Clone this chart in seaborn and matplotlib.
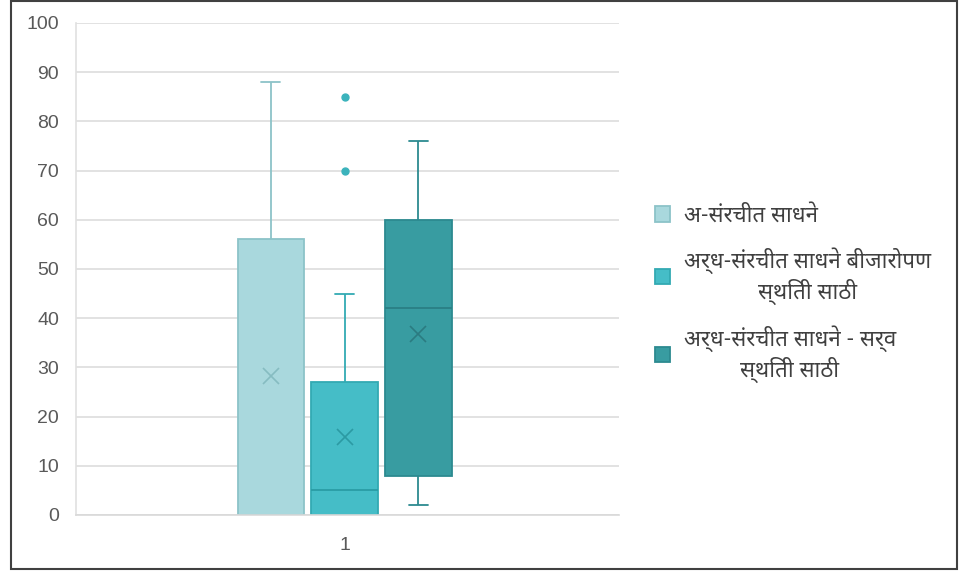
import matplotlib
matplotlib.use("Agg")
import matplotlib.pyplot as plt
import seaborn as sns
import pandas as pd
from matplotlib.patches import Rectangle

# data (raw samples read so that quartiles / whiskers / means match the picture)
labels = ['अ-संरचीत साधने',
          'अर्ध-संरचीत साधने बीजारोपण\nस्थिती साठी',
          'अर्ध-संरचीत साधने - सर्व\nस्थिती साठी']
vals1 = [0, 0, 0, 0, 0, 52, 56, 58.7, 88]
vals2 = [0, 0, 0, 0, 0, 0, 0, 1, 2, 3, 5, 5, 6, 8, 10, 27, 30, 37, 45, 70, 85]
vals3 = [2, 5, 8, 22, 42, 50, 60, 66, 76]
category = '1'
yticks = [0, 10, 20, 30, 40, 50, 60, 70, 80, 90, 100]

fills = ['#A9D8DD', '#45BDC7', '#389CA1']
edges = ['#8CC3C8', '#33AAB3', '#2C8A90']
meds = ['#8CC3C8', '#2A9CA5', '#2A7F85']
means_c = ['#86BCC1', '#2C9AA3', '#2B7B81']

rows = []
for lab, vv in zip(labels, [vals1, vals2, vals3]):
    for v in vv:
        rows.append({'cat': category, 'grp': lab, 'val': v})
df = pd.DataFrame(rows)

sns.set_style("white")
plt.rcParams['font.family'] = ['Liberation Sans', 'DejaVu Sans']
deva = ['Noto Sans Devanagari', 'Hind', 'Mukta', 'DejaVu Sans']

fig = plt.figure(figsize=(9.59, 5.77), dpi=100)
ax = fig.add_axes([0.079, 0.1075, 0.5665, 0.8527])

sns.boxplot(data=df, x='cat', y='val', hue='grp', hue_order=labels,
            palette=fills, width=0.407, gap=0.098, whis=1.5,
            showmeans=True, linewidth=1.3, legend=True, ax=ax)

# colour each box like the original
for i, c in enumerate(ax.containers):
    for b in c.boxes:
        b.set_facecolor(fills[i])
        b.set_edgecolor(edges[i])
        b.set_linewidth(1.3)
    for ln in list(c.whiskers) + list(c.caps):
        ln.set_color(edges[i])
        ln.set_linewidth(1.3)
    for cap in c.caps:
        xd = cap.get_xdata()
        cx = (xd[0] + xd[1]) / 2
        cap.set_xdata([cx - 0.0175, cx + 0.0175])
    for m in c.medians:
        m.set_color(meds[i])
        m.set_linewidth(1.3)
    for m in c.means:
        m.set_marker('x')
        m.set_markeredgecolor(means_c[i])
        m.set_markerfacecolor(means_c[i])
        m.set_markersize(11)
        m.set_markeredgewidth(1.2)
    for f in c.fliers:
        f.set_marker('o')
        f.set_markerfacecolor('#3BB3BC')
        f.set_markeredgecolor('#3BB3BC')
        f.set_markersize(5)

ax.set_ylim(0, 100)
ax.set_xlim(-0.495, 0.505)
ax.set_yticks(yticks)
ax.yaxis.grid(True, color='#DDDDDD', linewidth=1.2)
ax.set_axisbelow(True)
for s in ['top', 'right']:
    ax.spines[s].set_visible(False)
ax.spines['left'].set_color('#E0E0E0')
ax.spines['bottom'].set_color('#D9D9D9')
ax.spines['left'].set_linewidth(1.2)
ax.spines['bottom'].set_linewidth(1.2)
ax.tick_params(axis='y', labelsize=14, labelcolor='#595959', color='#E0E0E0',
               length=5, width=1.2, pad=7)
ax.tick_params(axis='x', labelsize=14, labelcolor='#595959', length=0, pad=16)
ax.set_xlabel('')
ax.set_ylabel('')

handles, labs = ax.get_legend_handles_labels()
for h, fc, ec in zip(handles, fills, edges):
    h.set_facecolor(fc)
    h.set_edgecolor(ec)
leg = ax.legend(handles, labs, loc='center left', bbox_to_anchor=(1.066, 0.449),
                frameon=False, prop={'family': deva, 'size': 16},
                handlelength=0.7, handleheight=0.7, handletextpad=0.6,
                labelspacing=0.95, labelcolor='#404040',
                borderpad=0, borderaxespad=0)
for t in leg.get_texts():
    t.set_multialignment('center')

fig.patches.append(Rectangle((0.011, 0.013), 0.987, 0.985, transform=fig.transFigure,
                             fill=False, edgecolor='#404040', linewidth=1.5))

fig.savefig('out.png', dpi=100)
